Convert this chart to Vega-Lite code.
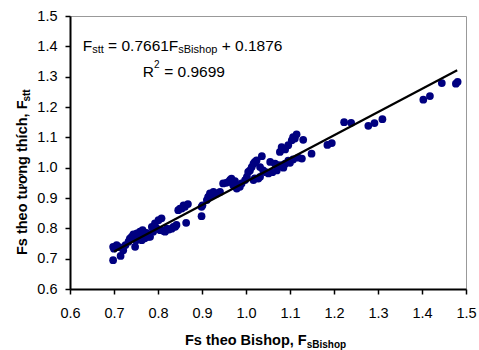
{
  "$schema": "https://vega.github.io/schema/vega-lite/v6.json",
  "width": 396,
  "height": 273,
  "autosize": "none",
  "padding": {"left": 70, "top": 16, "right": 13, "bottom": 61},
  "background": "white",
  "config": {
    "font": "Liberation Sans",
    "view": {"stroke": "#999999", "strokeWidth": 1}
  },
  "datasets": {
    "gx": [{"bx": 0.7}, {"bx": 0.8}, {"bx": 0.9}, {"bx": 1.0}, {"bx": 1.1}, {"bx": 1.2}, {"bx": 1.3}, {"bx": 1.4}],
    "gy": [{"fy": 0.7}, {"fy": 0.8}, {"fy": 0.9}, {"fy": 1.0}, {"fy": 1.1}, {"fy": 1.2}, {"fy": 1.3}, {"fy": 1.4}],
    "pts": [
      {"bx": 0.698, "fy": 0.739}, {"bx": 0.700, "fy": 0.733}, {"bx": 0.698, "fy": 0.695}, {"bx": 0.706, "fy": 0.745},
      {"bx": 0.712, "fy": 0.738}, {"bx": 0.715, "fy": 0.709}, {"bx": 0.721, "fy": 0.728}, {"bx": 0.726, "fy": 0.745},
      {"bx": 0.733, "fy": 0.756}, {"bx": 0.736, "fy": 0.766}, {"bx": 0.740, "fy": 0.772}, {"bx": 0.744, "fy": 0.780},
      {"bx": 0.748, "fy": 0.739}, {"bx": 0.750, "fy": 0.760}, {"bx": 0.752, "fy": 0.783}, {"bx": 0.756, "fy": 0.770},
      {"bx": 0.759, "fy": 0.789}, {"bx": 0.763, "fy": 0.761}, {"bx": 0.765, "fy": 0.794}, {"bx": 0.768, "fy": 0.778},
      {"bx": 0.770, "fy": 0.767}, {"bx": 0.774, "fy": 0.785}, {"bx": 0.778, "fy": 0.772}, {"bx": 0.782, "fy": 0.772},
      {"bx": 0.786, "fy": 0.805}, {"bx": 0.789, "fy": 0.789}, {"bx": 0.793, "fy": 0.816}, {"bx": 0.797, "fy": 0.800},
      {"bx": 0.801, "fy": 0.827}, {"bx": 0.805, "fy": 0.794}, {"bx": 0.808, "fy": 0.833}, {"bx": 0.812, "fy": 0.792},
      {"bx": 0.816, "fy": 0.789}, {"bx": 0.820, "fy": 0.799}, {"bx": 0.825, "fy": 0.796}, {"bx": 0.831, "fy": 0.799},
      {"bx": 0.835, "fy": 0.805}, {"bx": 0.839, "fy": 0.805}, {"bx": 0.842, "fy": 0.811}, {"bx": 0.846, "fy": 0.860},
      {"bx": 0.850, "fy": 0.865}, {"bx": 0.854, "fy": 0.865}, {"bx": 0.858, "fy": 0.876}, {"bx": 0.861, "fy": 0.871},
      {"bx": 0.864, "fy": 0.818}, {"bx": 0.868, "fy": 0.880},
      {"bx": 0.899, "fy": 0.840}, {"bx": 0.899, "fy": 0.871}, {"bx": 0.901, "fy": 0.876}, {"bx": 0.911, "fy": 0.893},
      {"bx": 0.914, "fy": 0.904}, {"bx": 0.918, "fy": 0.915}, {"bx": 0.922, "fy": 0.909}, {"bx": 0.926, "fy": 0.920},
      {"bx": 0.934, "fy": 0.915}, {"bx": 0.941, "fy": 0.920}, {"bx": 0.948, "fy": 0.948}, {"bx": 0.955, "fy": 0.950},
      {"bx": 0.960, "fy": 0.953}, {"bx": 0.964, "fy": 0.960}, {"bx": 0.967, "fy": 0.964}, {"bx": 0.971, "fy": 0.942},
      {"bx": 0.975, "fy": 0.956}, {"bx": 0.979, "fy": 0.931}, {"bx": 0.986, "fy": 0.937}, {"bx": 0.990, "fy": 0.948},
      {"bx": 0.998, "fy": 0.959}, {"bx": 1.002, "fy": 0.970}, {"bx": 1.005, "fy": 0.986}, {"bx": 1.009, "fy": 0.991},
      {"bx": 1.013, "fy": 1.002}, {"bx": 1.017, "fy": 1.013}, {"bx": 1.020, "fy": 1.019}, {"bx": 1.024, "fy": 1.024},
      {"bx": 1.017, "fy": 0.959}, {"bx": 1.020, "fy": 0.965}, {"bx": 1.028, "fy": 0.964}, {"bx": 1.032, "fy": 0.970},
      {"bx": 1.032, "fy": 1.002}, {"bx": 1.036, "fy": 1.038}, {"bx": 1.039, "fy": 0.991}, {"bx": 1.045, "fy": 0.985},
      {"bx": 1.051, "fy": 0.981}, {"bx": 1.055, "fy": 1.019}, {"bx": 1.060, "fy": 0.985}, {"bx": 1.066, "fy": 1.013},
      {"bx": 1.070, "fy": 0.991}, {"bx": 1.073, "fy": 1.008}, {"bx": 1.077, "fy": 1.052}, {"bx": 1.081, "fy": 1.068},
      {"bx": 1.081, "fy": 1.008}, {"bx": 1.085, "fy": 1.000}, {"bx": 1.089, "fy": 1.060}, {"bx": 1.089, "fy": 1.013},
      {"bx": 1.096, "fy": 1.074}, {"bx": 1.096, "fy": 1.023}, {"bx": 1.100, "fy": 1.016}, {"bx": 1.104, "fy": 1.090},
      {"bx": 1.107, "fy": 1.027}, {"bx": 1.107, "fy": 1.101}, {"bx": 1.111, "fy": 1.096}, {"bx": 1.115, "fy": 1.110},
      {"bx": 1.119, "fy": 1.033}, {"bx": 1.127, "fy": 1.030}, {"bx": 1.130, "fy": 1.092}, {"bx": 1.149, "fy": 1.046},
      {"bx": 1.185, "fy": 1.075}, {"bx": 1.195, "fy": 1.081}, {"bx": 1.223, "fy": 1.150}, {"bx": 1.239, "fy": 1.148},
      {"bx": 1.278, "fy": 1.138}, {"bx": 1.292, "fy": 1.147}, {"bx": 1.310, "fy": 1.160}, {"bx": 1.403, "fy": 1.224},
      {"bx": 1.418, "fy": 1.236}, {"bx": 1.445, "fy": 1.279}, {"bx": 1.477, "fy": 1.277}, {"bx": 1.481, "fy": 1.283}
    ],
    "trend": [{"bx": 0.70, "fy": 0.7239}, {"bx": 1.48, "fy": 1.3214}],
    "box": [{"bx": 0.616, "bx2": 1.098, "fy": 1.268, "fy2": 1.442}],
    "eqMain": [
      {"bx": 0.6289, "fy": 1.386, "t": "F"},
      {"bx": 0.6866, "fy": 1.386, "t": "= 0.7661F"},
      {"bx": 0.9448, "fy": 1.386, "t": "+ 0.1876"},
      {"bx": 0.7652, "fy": 1.298, "t": "R"},
      {"bx": 0.8140, "fy": 1.298, "t": "= 0.9699"}
    ],
    "eqSub": [
      {"bx": 0.6505, "fy": 1.378, "t": "stt"},
      {"bx": 0.8461, "fy": 1.378, "t": "sBishop"}
    ],
    "eqSup": [{"bx": 0.7910, "fy": 1.327, "t": "2"}],
    "xTitle": [{"bx": 0.8614, "fy": 0.6, "t": "Fs theo Bishop, F"}],
    "xTitleSub": [{"bx": 1.138, "fy": 0.6, "t": "sBishop"}],
    "yTitle": [{"bx": 0.6, "fy": 0.712, "t": "Fs theo tương thích, F"}],
    "yTitleSub": [{"bx": 0.6, "fy": 1.218, "t": "stt"}]
  },
  "encoding": {
    "x": {
      "field": "bx", "type": "quantitative",
      "scale": {"domain": [0.6, 1.5], "nice": false, "zero": false},
      "axis": {
        "title": null, "values": [0.6, 0.7, 0.8, 0.9, 1.0, 1.1, 1.2, 1.3, 1.4, 1.5], "format": ".1f",
        "grid": false, "zindex": 1,
        "domainColor": "#000000", "domainWidth": 2,
        "ticks": true, "tickColor": "#000000", "tickSize": 5, "tickWidth": 1.5, "tickOpacity": 1,
        "labelFontSize": 14.5, "labelColor": "#000000", "labelPadding": 12, "labelFlush": false, "labelOverlap": false
      }
    },
    "y": {
      "field": "fy", "type": "quantitative",
      "scale": {"domain": [0.6, 1.5], "nice": false, "zero": false},
      "axis": {
        "title": null, "values": [0.6, 0.7, 0.8, 0.9, 1.0, 1.1, 1.2, 1.3, 1.4, 1.5], "format": ".1f",
        "grid": false, "zindex": 1,
        "domainColor": "#000000", "domainWidth": 2,
        "ticks": true, "tickColor": "#000000", "tickSize": 5, "tickWidth": 1.5, "tickOpacity": 1,
        "labelFontSize": 14.5, "labelColor": "#000000", "labelPadding": 8, "labelFlush": false, "labelOverlap": false
      }
    }
  },
  "layer": [
    {
      "data": {"name": "gx"},
      "mark": {"type": "rule", "color": "#999999", "strokeWidth": 1},
      "encoding": {"y": {"datum": 0.6}, "y2": {"datum": 1.5}}
    },
    {
      "data": {"name": "gy"},
      "mark": {"type": "rule", "color": "#999999", "strokeWidth": 1},
      "encoding": {"x": {"datum": 0.6}, "x2": {"datum": 1.5}}
    },
    {
      "data": {"name": "pts"},
      "mark": {"type": "circle", "size": 60, "color": "#000080", "opacity": 1}
    },
    {
      "data": {"name": "trend"},
      "mark": {"type": "line", "color": "#000000", "strokeWidth": 2.2}
    },
    {
      "data": {"name": "box"},
      "mark": {"type": "rect", "fill": "#ffffff", "stroke": null},
      "encoding": {
        "x2": {"field": "bx2"},
        "y2": {"field": "fy2"}
      }
    },
    {
      "data": {"name": "eqMain"},
      "mark": {"type": "text", "align": "left", "baseline": "alphabetic", "fontSize": 15.5, "color": "#000000"},
      "encoding": {"text": {"field": "t"}}
    },
    {
      "data": {"name": "eqSub"},
      "mark": {"type": "text", "align": "left", "baseline": "alphabetic", "fontSize": 11, "color": "#000000"},
      "encoding": {"text": {"field": "t"}}
    },
    {
      "data": {"name": "eqSup"},
      "mark": {"type": "text", "align": "left", "baseline": "alphabetic", "fontSize": 10, "color": "#000000"},
      "encoding": {"text": {"field": "t"}}
    },
    {
      "data": {"name": "xTitle"},
      "mark": {"type": "text", "align": "left", "baseline": "alphabetic", "fontSize": 14.5, "fontWeight": "bold", "color": "#000000", "dy": 56},
      "encoding": {"text": {"field": "t"}}
    },
    {
      "data": {"name": "xTitleSub"},
      "mark": {"type": "text", "align": "left", "baseline": "alphabetic", "fontSize": 10, "fontWeight": "bold", "color": "#000000", "dy": 59},
      "encoding": {"text": {"field": "t"}}
    },
    {
      "data": {"name": "yTitle"},
      "mark": {"type": "text", "align": "left", "baseline": "alphabetic", "angle": 270, "fontSize": 14.5, "fontWeight": "bold", "color": "#000000", "dy": -43},
      "encoding": {"text": {"field": "t"}}
    },
    {
      "data": {"name": "yTitleSub"},
      "mark": {"type": "text", "align": "left", "baseline": "alphabetic", "angle": 270, "fontSize": 10, "fontWeight": "bold", "color": "#000000", "dy": -40},
      "encoding": {"text": {"field": "t"}}
    }
  ]
}
